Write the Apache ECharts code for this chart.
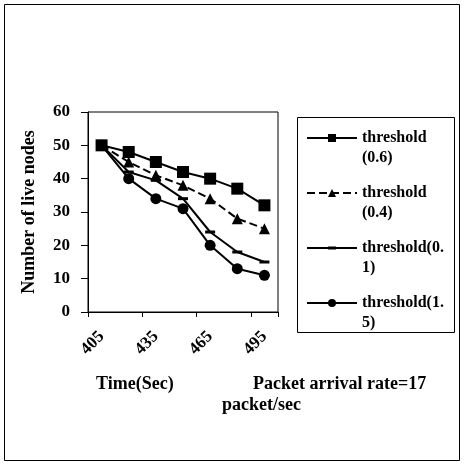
<!DOCTYPE html>
<html>
<head>
<meta charset="utf-8">
<script src="https://cdn.jsdelivr.net/npm/echarts@6/dist/echarts.min.js"></script>
<style>
  html, body { margin: 0; padding: 0; background: #fff; }
  #chart { width: 465px; height: 465px; }
</style>
</head>
<body>
<div id="chart"></div>
<script>
var times = ["405", "420", "435", "450", "465", "480", "495"];
var th06 = [50, 48, 45, 42, 40, 37, 32];
var th04 = [50, 45, 41, 38, 34, 28, 25];
var th01 = [50, 42, 39.5, 34, 24, 18, 15];
var th15 = [50, 40, 34, 31, 20, 13, 11];
var names = ["threshold\n(0.6)", "threshold\n(0.4)", "threshold(0.\n1)", "threshold(1.\n5)"];

var font = "'Liberation Serif', 'Times New Roman', serif";
var dash = "path://M0,0H10V3H0Z";
// legend icon for the dash series: line with a short bar in the middle
var dashIcon = "path://M0,0M50,10M0,4H50V6H0ZM21,3.5H29V6.5H21Z";
var chart = echarts.init(document.getElementById("chart"));

function line(name, data, symbol, size, dashed) {
  return {
    name: name,
    type: "line",
    data: data,
    symbol: symbol,
    symbolSize: size,
    symbolKeepAspect: true,
    showAllSymbol: true,
    itemStyle: { color: "#000" },
    lineStyle: { color: "#000", width: 2, type: dashed ? "dashed" : "solid" },
    animation: false
  };
}

var option = {
  backgroundColor: "#fff",
  textStyle: { fontFamily: font },
  grid: { left: 88, right: 187, top: 112, bottom: 153, show: true, borderColor: "#000", borderWidth: 1 },
  legend: {
    orient: "vertical",
    left: 306,
    top: 108,
    padding: 0,
    itemGap: -5,
    itemWidth: 50,
    itemHeight: 10,
    formatter: function (name) { return "\n" + name; },
    textStyle: { fontFamily: font, fontSize: 16, fontWeight: "bold", color: "#000", lineHeight: 20 },
    data: [names[0], names[1], { name: names[2], icon: dashIcon }, names[3]]
  },
  xAxis: {
    type: "category",
    data: times,
    boundaryGap: true,
    axisLine: { lineStyle: { color: "#000" } },
    axisTick: { show: true, lineStyle: { color: "#000" }, length: 5 },
    axisLabel: { interval: 1, rotate: 45, margin: 22, fontFamily: font, fontSize: 17, fontWeight: "bold", color: "#000" },
    splitLine: { show: false }
  },
  yAxis: {
    type: "value",
    min: 0,
    max: 60,
    interval: 10,
    name: "Number of live nodes",
    nameLocation: "middle",
    nameGap: 50,
    nameTextStyle: { fontFamily: font, fontSize: 18, fontWeight: "bold", color: "#000" },
    axisLine: { show: true, lineStyle: { color: "#000" } },
    axisTick: { show: true, lineStyle: { color: "#000" }, length: 7 },
    axisLabel: { margin: 18, fontFamily: font, fontSize: 17, fontWeight: "bold", color: "#000" },
    splitLine: { show: false }
  },
  graphic: [
    { type: "rect", shape: { x: 4.5, y: 4.5, width: 455, height: 456 }, style: { fill: "none", stroke: "#000", lineWidth: 1 } },
    { type: "rect", shape: { x: 297.5, y: 117.5, width: 157, height: 215 }, style: { fill: "none", stroke: "#000", lineWidth: 1 } },
    { type: "text", left: 96, top: 375, style: { text: "Time(Sec)", font: "bold 18px " + font, fill: "#000" } },
    { type: "text", left: 253, top: 375, style: { text: "Packet arrival rate=17", font: "bold 18px " + font, fill: "#000" } },
    { type: "text", left: 222, top: 396, style: { text: "packet/sec", font: "bold 18px " + font, fill: "#000" } }
  ],
  series: [
    line(names[0], th06, "rect", 12, false),
    line(names[1], th04, "triangle", 11, true),
    line(names[2], th01, dash, 10, false),
    line(names[3], th15, "circle", 11, false)
  ]
};
chart.setOption(option);
</script>
</body>
</html>
